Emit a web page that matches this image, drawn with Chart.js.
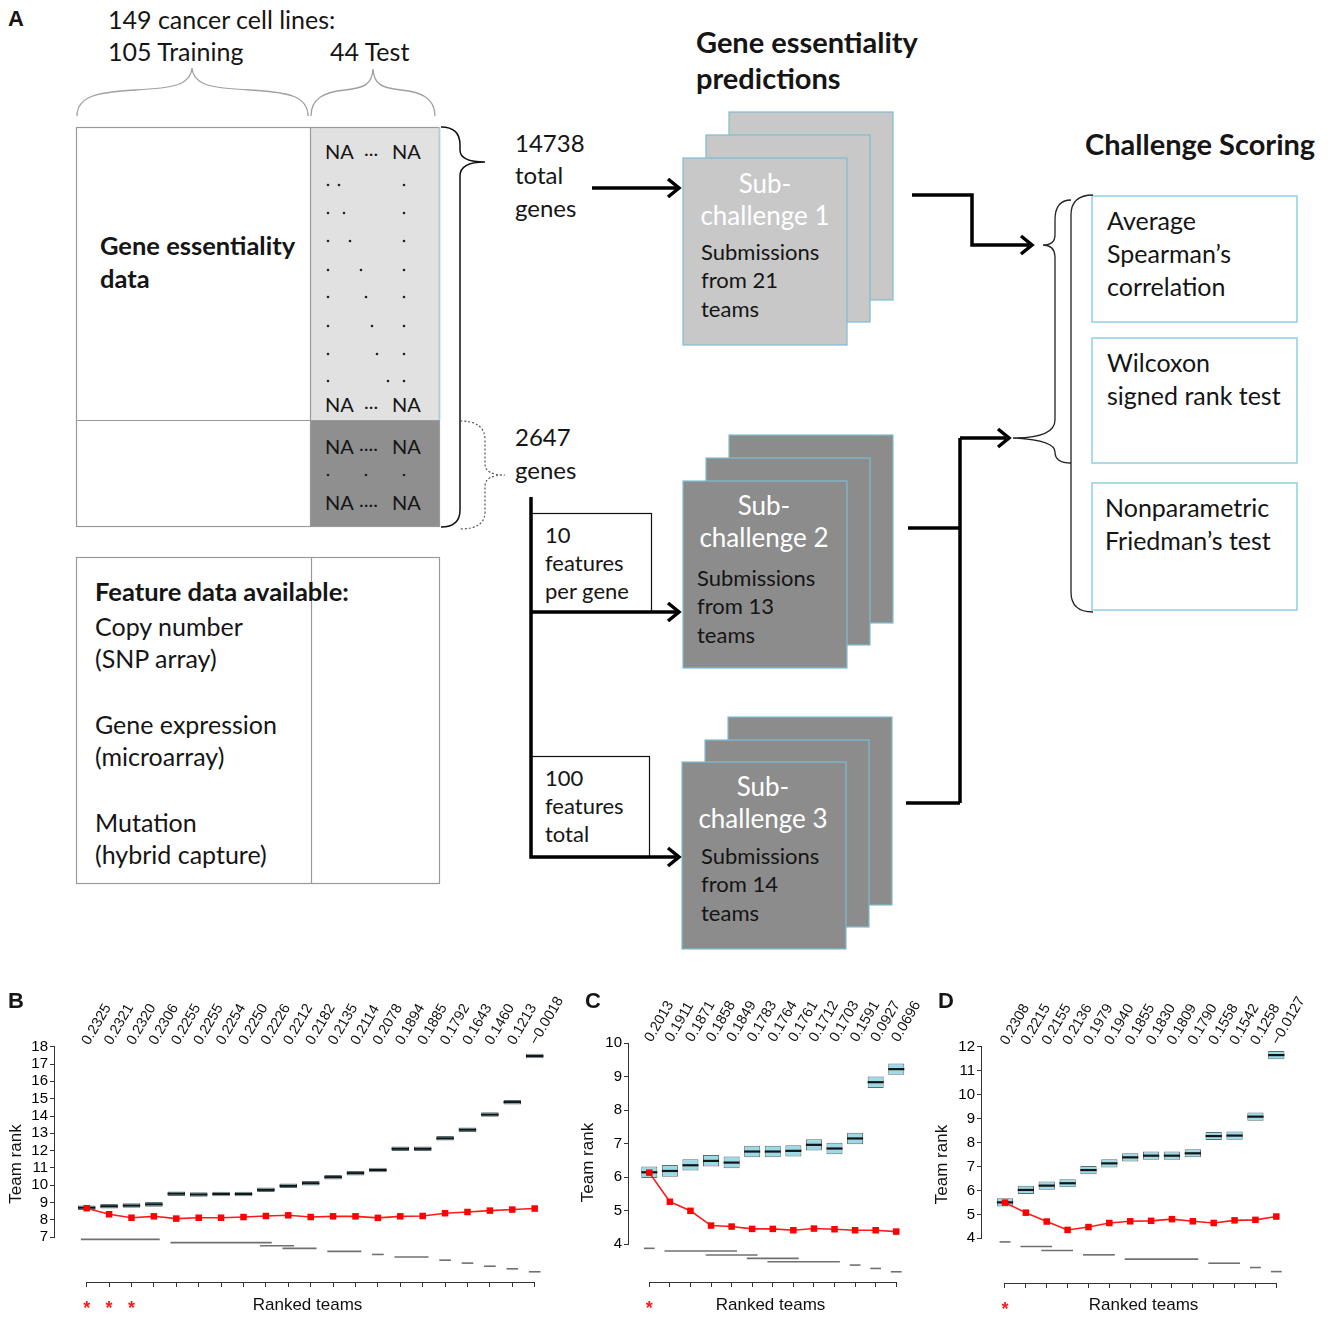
<!DOCTYPE html>
<html>
<head>
<meta charset="utf-8">
<title>Gene essentiality challenge</title>
<script src="https://cdn.jsdelivr.net/npm/chart.js@4.4.1/dist/chart.umd.min.js"></script>
<style>
  html, body { margin: 0; padding: 0; background: #fff; }
  #page { position: relative; width: 1331px; height: 1322px; overflow: hidden; font-family: Lato, "Open Sans", sans-serif; color: #151515; }
  .t { position: absolute; white-space: nowrap; line-height: 1; transform: translateY(-50%); font-size: 24px; }
  .m { font-size: 25px; }
  .c { transform: translate(-50%, -50%); font-size: 26px; }
  .b { font-weight: 700; font-size: 25.5px; }
  .h { font-weight: 700; font-size: 29px; }
  .w { color: #fff; }
  .s { font-size: 22px; }
  .na { font-size: 20px; }
  .pl { font-family: "Liberation Sans", Arial, sans-serif; font-weight: 700; font-size: 22px; }
  canvas { position: absolute; }
</style>
</head>
<body>
<div id="page">
<svg id="diagram" width="1331" height="960" style="position:absolute;left:0;top:0">
  <!-- braces over the columns -->
  <g fill="none" stroke="#a0a0a0" stroke-width="1.3">
    <path d="M77 116 C77 96 98 92 135 90 C172 88 190 86 192 68 C194 86 212 88 250 90 C288 92 308 96 308 116"/>
    <path d="M311 116 C311 98 325 92 345 90 C365 88 372 84 373 69 C374 84 381 88 401 90 C421 92 435 98 435 116"/>
  </g>
  <!-- data matrix -->
  <rect x="310" y="127" width="130" height="293" fill="#e1e1e1"/>
  <rect x="310" y="420" width="130" height="107" fill="#8f8f8f"/>
  <g fill="none" stroke="#9a9a9a" stroke-width="1.2">
    <rect x="76.5" y="127.5" width="363" height="399"/>
    <line x1="310.5" y1="127" x2="310.5" y2="527"/>
    <line x1="76" y1="420.5" x2="440" y2="420.5"/>
    <rect x="76.5" y="557.5" width="363" height="326"/>
    <line x1="311.5" y1="557" x2="311.5" y2="884"/>
  </g>
  <line x1="439.5" y1="127" x2="439.5" y2="420" stroke="#9fd4e4" stroke-width="1.5"/>
  <g id="dots" fill="#222"></g>
  <path d="M441 127 Q460 127 460 145 L460 150 Q460 162 485 162 Q460 162 460 176 L460 510 Q460 527 441 527" fill="none" stroke="#111" stroke-width="1.5"/>
  <path d="M460 421 Q485 421 485 440 L485 464 Q485 475 505 475 Q485 475 485 486 L485 512 Q485 529 460 529" fill="none" stroke="#555" stroke-width="1.2" stroke-dasharray="2 2"/>

  <!-- sub-challenge stacks -->
  <g stroke="#7dbdd2" stroke-width="1.2">
    <g fill="#c8c8c8">
      <rect x="729" y="112" width="164" height="188"/>
      <rect x="706" y="135" width="164" height="187"/>
      <rect x="683" y="158" width="164" height="187"/>
    </g>
    <g fill="#8c8c8c">
      <rect x="729" y="435" width="164" height="188"/>
      <rect x="706" y="458" width="164" height="187"/>
      <rect x="683" y="481" width="164" height="187"/>
      <rect x="728" y="717" width="164" height="188"/>
      <rect x="705" y="740" width="164" height="187"/>
      <rect x="682" y="762" width="164" height="187"/>
    </g>
  </g>
  <g fill="none" stroke="#111" stroke-width="1.2">
    <rect x="531.5" y="513.5" width="120" height="99"/>
    <rect x="531.5" y="756.5" width="118" height="101"/>
  </g>

  <!-- scoring boxes -->
  <g fill="#fff" stroke="#8fd0e1" stroke-width="1.5">
    <rect x="1092" y="196" width="205" height="126"/>
    <rect x="1092" y="338" width="205" height="125"/>
    <rect x="1092" y="483" width="205" height="127"/>
  </g>
  <g fill="none" stroke="#222" stroke-width="1.3">
    <path d="M1093 195 Q1071 195 1071 215 L1071 592 Q1071 612 1093 612"/>
    <path d="M1071 200 Q1055 200 1055 220 L1055 235 Q1055 245 1043 245 Q1055 245 1055 258 L1055 420 Q1055 438 1013 438 Q1055 440 1055 452 Q1055 463 1071 463"/>
  </g>

  <!-- arrows -->
  <g fill="none" stroke="#000" stroke-width="3.5">
    <path d="M592 188 H676"/>
    <path d="M668 179 L679 188 L668 197"/>
    <path d="M912 195 H972 V245 H1029"/>
    <path d="M1021 236 L1032 245 L1021 254"/>
    <path d="M531 497 V857 H676"/>
    <path d="M531 612 H676"/>
    <path d="M668 603 L679 612 L668 621"/>
    <path d="M668 848 L679 857 L668 866"/>
    <path d="M908 528 H960"/>
    <path d="M906 803 H960"/>
    <path d="M960 438 V803"/>
    <path d="M960 438 H1006"/>
    <path d="M998 429 L1009 438 L998 447"/>
  </g>
</svg>
<canvas id="chartB" width="570" height="330" style="left:0;top:990px"></canvas>
<canvas id="chartC" width="352" height="330" style="left:570px;top:990px"></canvas>
<canvas id="chartD" width="409" height="330" style="left:922px;top:990px"></canvas>
</div>
<script>
// ---- panel B: sub-challenge 1 (21 teams)
const scoresB = ["0.2325", "0.2321", "0.2320", "0.2306", "0.2255", "0.2255", "0.2254", "0.2250", "0.2226", "0.2212",
  "0.2182", "0.2135", "0.2114", "0.2078", "0.1894", "0.1885", "0.1792", "0.1643", "0.1460", "0.1213", "\u22120.0018"];
const medB = [8.71, 8.79, 8.83, 8.90, 9.52, 9.47, 9.50, 9.50, 9.74, 9.97, 10.12, 10.47, 10.70, 10.88, 12.11, 12.11, 12.71, 13.21, 14.08, 14.80, 17.46];
const loB = [8.58, 8.66, 8.70, 8.77, 9.39, 9.34, 9.37, 9.37, 9.61, 9.84, 9.99, 10.34, 10.57, 10.75, 11.98, 11.98, 12.58, 13.08, 13.95, 14.67, 17.33];
const hiB = [8.84, 8.92, 8.96, 9.03, 9.65, 9.60, 9.63, 9.63, 9.87, 10.10, 10.25, 10.60, 10.83, 11.01, 12.24, 12.24, 12.84, 13.34, 14.21, 14.93, 17.59];
const redB = [8.68, 8.33, 8.13, 8.21, 8.08, 8.13, 8.13, 8.17, 8.23, 8.27, 8.17, 8.21, 8.21, 8.12, 8.21, 8.23, 8.39, 8.46, 8.54, 8.60, 8.66];
const groupsB = [[1, 4], [5, 9], [9, 10], [10, 11], [12, 13], [14, 14], [15, 16], [17, 17], [18, 18], [19, 19], [20, 20], [21, 21]];
const levelsB = [6.88, 6.69, 6.51, 6.36, 6.19, 6.01, 5.86, 5.68, 5.51, 5.33, 5.18, 5.01];
const starsB = [1, 2, 3];
const yTicksB = [7, 8, 9, 10, 11, 12, 13, 14, 15, 16, 17, 18];

// ---- panel C: sub-challenge 2 (13 teams)
const scoresC = ["0.2013", "0.1911", "0.1871", "0.1858", "0.1849", "0.1783", "0.1764", "0.1761", "0.1712", "0.1703", "0.1591", "0.0927", "0.0696"];
const medC = [6.15, 6.19, 6.36, 6.49, 6.44, 6.77, 6.77, 6.79, 6.97, 6.86, 7.16, 8.84, 9.23];
const loC = [5.98, 6.02, 6.20, 6.32, 6.27, 6.60, 6.60, 6.62, 6.80, 6.69, 6.99, 8.67, 9.06];
const hiC = [6.32, 6.37, 6.54, 6.67, 6.62, 6.94, 6.94, 6.96, 7.14, 7.03, 7.33, 9.01, 9.40];
const redC = [6.14, 5.27, 5.00, 4.56, 4.53, 4.46, 4.46, 4.42, 4.47, 4.45, 4.42, 4.42, 4.38];
const groupsC = [[1, 1], [2, 5], [4, 6], [6, 8], [7, 10], [11, 11], [12, 12], [13, 13]];
const levelsC = [3.88, 3.80, 3.68, 3.58, 3.48, 3.38, 3.28, 3.18];
const starsC = [1];
const yTicksC = [4, 5, 6, 7, 8, 9, 10];

// ---- panel D: sub-challenge 3 (14 teams)
const scoresD = ["0.2308", "0.2215", "0.2155", "0.2136", "0.1979", "0.1940", "0.1855", "0.1830", "0.1809", "0.1790", "0.1558", "0.1542", "0.1258", "\u22120.0127"];
const medD = [5.50, 6.02, 6.20, 6.30, 6.85, 7.13, 7.38, 7.45, 7.45, 7.55, 8.27, 8.29, 9.08, 11.65];
const loD = [5.33, 5.85, 6.03, 6.13, 6.68, 6.96, 7.21, 7.28, 7.28, 7.38, 8.10, 8.12, 8.91, 11.48];
const hiD = [5.67, 6.19, 6.37, 6.47, 7.02, 7.30, 7.55, 7.62, 7.62, 7.72, 8.44, 8.46, 9.25, 11.82];
const redD = [5.49, 5.07, 4.70, 4.35, 4.47, 4.64, 4.71, 4.73, 4.80, 4.71, 4.64, 4.75, 4.77, 4.91];
const groupsD = [[1, 1], [2, 3], [3, 4], [5, 6], [7, 10], [11, 12], [13, 13], [14, 14]];
const levelsD = [3.85, 3.66, 3.49, 3.31, 3.13, 2.96, 2.78, 2.61];
const starsD = [1];
const yTicksD = [4, 5, 6, 7, 8, 9, 10, 11, 12];

// ---- diagram text (panel A)
const page = document.getElementById("page");
function label(x, y, str, cls) {
  const d = document.createElement("div");
  d.className = "t " + (cls || "");
  d.style.left = x + "px";
  d.style.top = y + "px";
  d.textContent = str;
  page.appendChild(d);
}

label(8, 19, "A", "pl");
label(8, 1001, "B", "pl");
label(585, 1001, "C", "pl");
label(938, 1001, "D", "pl");

label(108, 19, "149 cancer cell lines:", "m");
label(108, 51, "105 Training", "m");
label(330, 51, "44 Test", "m");
label(100, 246, "Gene essentiality", "b");
label(100, 279, "data", "b");

[[151, "..."], [404, "..."], [446, "...."], [502, "...."]].forEach(([y, mid]) => {
  label(325, y, "NA", "na");
  label(mid.length === 3 ? 364 : 359, y - 3, mid, "na");
  label(392, y, "NA", "na");
});

// dotted ellipsis pattern inside the test matrix
const dots = document.getElementById("dots");
function dot(x, y) {
  const c = document.createElementNS("http://www.w3.org/2000/svg", "circle");
  c.setAttribute("cx", x); c.setAttribute("cy", y); c.setAttribute("r", 1.3);
  dots.appendChild(c);
}
const rowY = [185, 213, 241, 270, 297, 326, 354, 381];
const diagX = [339, 344, 350, 361, 366, 372, 377, 388];
rowY.forEach((y, i) => { dot(328, y); dot(diagX[i], y); dot(404, y); });
[328, 366, 404].forEach(x => dot(x, 475));

label(515, 143, "14738");
label(515, 175, "total");
label(515, 208, "genes");
label(515, 437, "2647");
label(515, 470, "genes");
label(545, 535, "10", "s");
label(545, 563, "features", "s");
label(545, 591, "per gene", "s");
label(545, 778, "100", "s");
label(545, 806, "features", "s");
label(545, 834, "total", "s");

label(696, 41, "Gene essentiality", "h");
label(696, 77, "predictions", "h");
label(1085, 143, "Challenge Scoring", "h");

[[765, 183, 701, 252, "1", "21"], [764, 505, 697, 578, "2", "13"], [763, 786, 701, 856, "3", "14"]].forEach(([cx, cy, lx, ly, k, n]) => {
  label(cx, cy, "Sub-", "c w");
  label(cx, cy + 32, "challenge " + k, "c w");
  label(lx, ly, "Submissions", "s");
  label(lx, ly + 28, "from " + n, "s");
  label(lx, ly + 57, "teams", "s");
});

label(1107, 220, "Average", "m");
label(1107, 253, "Spearman\u2019s", "m");
label(1107, 286, "correlation", "m");
label(1107, 362, "Wilcoxon", "m");
label(1107, 395, "signed rank test", "m");
label(1105, 507, "Nonparametric", "m");
label(1105, 540, "Friedman\u2019s test", "m");

label(95, 592, "Feature data available:", "b");
label(95, 626, "Copy number", "m");
label(95, 658, "(SNP array)", "m");
label(95, 724, "Gene expression", "m");
label(95, 756, "(microarray)", "m");
label(95, 822, "Mutation", "m");
label(95, 854, "(hybrid capture)", "m");

// ---- charts
Chart.defaults.font.family = '"Liberation Sans", Arial, sans-serif';

// R style axes: y line only between first and last tick, x line between first and last team, stars under top teams
const rAxes = {
  id: "rAxes",
  afterDraw(chart, args, opts) {
    const { ctx, chartArea, scales: { x, y } } = chart;
    const yt = y.ticks;
    ctx.save();
    ctx.strokeStyle = "#333";
    ctx.lineWidth = 1;
    ctx.beginPath();
    ctx.moveTo(chartArea.left - 0.5, y.getPixelForValue(yt[0].value));
    ctx.lineTo(chartArea.left - 0.5, y.getPixelForValue(yt[yt.length - 1].value));
    ctx.moveTo(x.getPixelForValue(1), chartArea.bottom + 0.5);
    ctx.lineTo(x.getPixelForValue(opts.n), chartArea.bottom + 0.5);
    ctx.stroke();
    ctx.fillStyle = "#ff1a1a";
    ctx.font = 'bold 18px "Liberation Sans", Arial, sans-serif';
    ctx.textAlign = "center";
    ctx.textBaseline = "alphabetic";
    opts.stars.forEach(t => ctx.fillText("*", x.getPixelForValue(t), chartArea.bottom + 32));
    ctx.restore();
  }
};
Chart.register(rAxes);

function fixSize(v) {
  return s => {
    if (s.isHorizontal()) s.height = v; else s.width = v;
    s.paddingLeft = s.paddingRight = s.paddingTop = s.paddingBottom = 0;
  };
}

function drawPanel(id, o) {
  const teams = o.scores.map((_, i) => i + 1);
  const teamTicks = s => { s.ticks = teams.map(v => ({ value: v })); };
  const halfBox = c => {
    const s = c.chart.scales.x;
    return (s.getPixelForValue(2) - s.getPixelForValue(1)) * 0.39;
  };

  const groupSets = o.groups.map((g, k) => ({
    type: "line",
    data: [{ x: g[0] - 0.26, y: o.levels[k] }, { x: g[1] + 0.26, y: o.levels[k] }],
    borderColor: "#707070",
    borderWidth: 1.6,
    pointRadius: 0,
    order: 4
  }));

  new Chart(document.getElementById(id), {
    type: "line",
    data: {
      datasets: [
        {
          type: "line",
          data: teams.map((t, i) => ({ x: t, y: o.red[i] })),
          borderColor: "#ff1a1a",
          borderWidth: 1.6,
          pointStyle: "rect",
          pointRadius: 4.6,
          pointBackgroundColor: "#ff0000",
          pointBorderWidth: 0,
          order: 0
        },
        {
          type: "line",
          data: teams.map((t, i) => ({ x: t, y: o.med[i] })),
          showLine: false,
          pointStyle: "line",
          pointRadius: halfBox,
          pointBorderColor: "#151515",
          pointBorderWidth: 2.2,
          order: 1
        },
        {
          type: "bar",
          data: teams.map((t, i) => ({ x: t, y: [o.lo[i], o.hi[i]] })),
          backgroundColor: "#9bdbe8",
          borderColor: "#5d6e72",
          borderWidth: 1,
          borderSkipped: false,
          barPercentage: 0.78,
          categoryPercentage: 1,
          order: 2
        },
        ...groupSets
      ]
    },
    options: {
      responsive: false,
      animation: false,
      events: [],
      layout: { padding: { left: 0, top: 0, bottom: 0, right: o.padR } },
      plugins: {
        legend: { display: false },
        tooltip: { enabled: false },
        rAxes: { n: teams.length, stars: o.stars }
      },
      scales: {
        x: {
          type: "linear", position: "bottom", min: o.xMin, max: o.xMax, offset: false,
          afterBuildTicks: teamTicks, afterFit: fixSize(o.bottomH),
          ticks: { callback: () => "", autoSkip: false, maxRotation: 0 },
          grid: { display: true, offset: false, drawOnChartArea: false, tickLength: 5, color: "#333" },
          border: { display: false },
          title: { display: true, text: "Ranked teams", font: { size: 17 }, color: "#111", padding: { top: 0, bottom: 4 } }
        },
        xt: {
          type: "linear", axis: "x", position: "top", min: o.xMin, max: o.xMax, offset: false,
          afterBuildTicks: teamTicks, afterFit: fixSize(o.topH),
          ticks: { callback: (v, i) => o.scores[i], autoSkip: false, minRotation: 60, maxRotation: 60, padding: -2, labelOffset: 14, font: { size: 14.5 }, color: "#111" },
          grid: { display: false, drawTicks: false, offset: false },
          border: { display: false }
        },
        y: {
          type: "linear", min: o.yMin, max: o.yMax,
          afterBuildTicks: s => { s.ticks = o.yTicks.map(v => ({ value: v })); },
          afterFit: fixSize(o.leftW),
          ticks: { font: { size: 15 }, color: "#000", padding: 2, autoSkip: false },
          grid: { drawOnChartArea: false, tickLength: 5, color: "#333" },
          border: { display: false },
          title: { display: true, text: "Team rank", font: { size: 17 }, color: "#111", padding: { top: o.titlePad, bottom: 0 } }
        }
      }
    }
  });
}

drawPanel("chartB", {
  scores: scoresB, med: medB, lo: loB, hi: hiB, red: redB, groups: groupsB, levels: levelsB, stars: starsB, yTicks: yTicksB,
  xMin: -0.415, xMax: 22.13, yMin: 4.42, yMax: 18.04, leftW: 55, topH: 56, bottomH: 38, padR: 10, titlePad: 6
});
drawPanel("chartC", {
  scores: scoresC, med: medC, lo: loC, hi: hiC, red: redC, groups: groupsC, levels: levelsC, stars: starsC, yTicks: yTicksC,
  xMin: 0.014, xMax: 13.765, yMin: 2.875, yMax: 10.01, leftW: 59, topH: 53, bottomH: 38, padR: 10, titlePad: 8
});
drawPanel("chartD", {
  scores: scoresD, med: medD, lo: loD, hi: hiD, red: redD, groups: groupsD, levels: levelsD, stars: starsD, yTicks: yTicksD,
  xMin: -0.102, xMax: 15.375, yMin: 2.134, yMax: 12.03, leftW: 60, topH: 56, bottomH: 37, padR: 26, titlePad: 10
});
</script>
</body>
</html>
